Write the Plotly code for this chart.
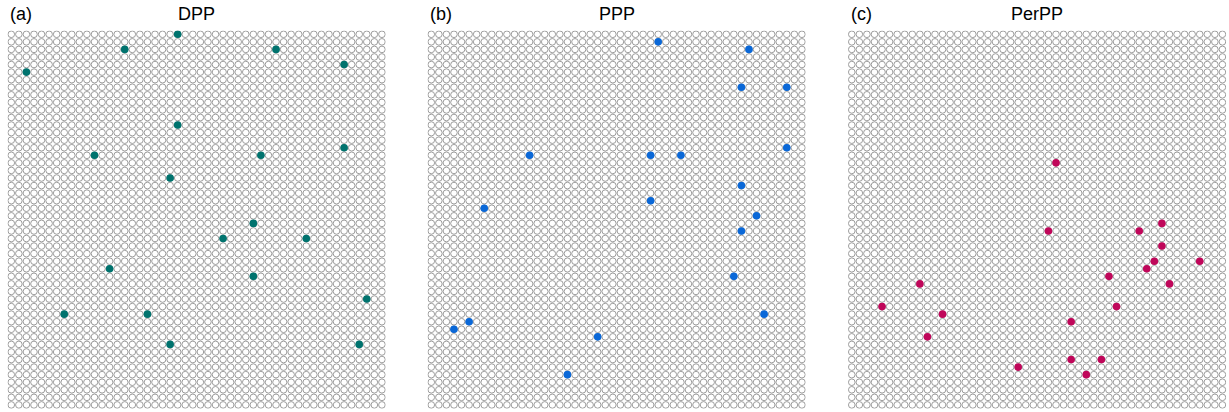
import numpy as np
import plotly.graph_objects as go

N = 50  # lattice size (50 x 50)

panel_titles = ["DPP", "PPP", "PerPP"]
panel_tags = ["(a)", "(b)", "(c)"]
colors = ["#00736E", "#0A68D8", "#C0075A"]

# (column, row) of selected lattice points, row 0 at top
dpp_cols = [22, 15, 35, 44, 2, 22, 44, 11, 33, 21, 32, 28, 39, 13, 32, 47, 7, 18, 21, 46]
dpp_rows = [0, 2, 2, 4, 5, 12, 15, 16, 16, 19, 25, 27, 27, 31, 32, 35, 37, 37, 41, 41]

ppp_cols = [30, 42, 41, 47, 47, 13, 29, 33, 41, 29, 7, 43, 41, 40, 44, 5, 3, 22, 18]
ppp_rows = [1, 2, 7, 7, 15, 16, 16, 16, 20, 22, 23, 24, 26, 32, 37, 38, 39, 40, 45]

perpp_cols = [27, 26, 38, 41, 41, 40, 46, 39, 34, 42, 9, 4, 12, 35, 29, 10, 29, 33, 22, 31]
perpp_rows = [17, 26, 26, 25, 28, 30, 30, 31, 32, 33, 33, 36, 37, 36, 38, 40, 43, 43, 44, 45]

panels = [(dpp_cols, dpp_rows), (ppp_cols, ppp_rows), (perpp_cols, perpp_rows)]

W, H = 1229, 412
x_left = [7.5, 427.5, 848.0]
pw = 378.2
y_top, y_bot = 30.5, 408.7

gx, gy = np.meshgrid(np.arange(N), np.arange(N))
gx = gx.ravel()
gy = gy.ravel()

fig = go.Figure()
annotations = []
for k, (cols, rows) in enumerate(panels):
    xa = "x" if k == 0 else f"x{k+1}"
    ya = "y" if k == 0 else f"y{k+1}"
    fig.add_trace(go.Scatter(
        x=gx, y=gy, mode="markers", xaxis=xa, yaxis=ya,
        marker=dict(symbol="circle-open", size=6.6, color="#9C9C9C",
                    line=dict(width=1, color="#9C9C9C")),
        hoverinfo="skip", showlegend=False))
    fig.add_trace(go.Scatter(
        x=cols, y=rows, mode="markers", xaxis=xa, yaxis=ya,
        marker=dict(symbol="circle", size=7.6, color=colors[k],
                    line=dict(width=0)),
        showlegend=False))
    x0 = x_left[k] / W
    x1 = (x_left[k] + pw) / W
    axkey = "xaxis" if k == 0 else f"xaxis{k+1}"
    aykey = "yaxis" if k == 0 else f"yaxis{k+1}"
    fig.update_layout(**{
        axkey: dict(domain=[x0, x1], range=[-0.5, N - 0.5], visible=False,
                    showgrid=False, zeroline=False, anchor=ya),
        aykey: dict(domain=[(H - y_bot) / H, (H - y_top) / H],
                    range=[N - 0.5, -0.5], visible=False,
                    showgrid=False, zeroline=False, anchor=xa),
    })
    annotations.append(dict(
        text=panel_titles[k], xref="paper", yref="paper",
        x=(x_left[k] + pw / 2) / W, y=(H - 14) / H,
        xanchor="center", yanchor="middle", showarrow=False,
        font=dict(size=18, color="#000000", family="Liberation Sans, Arial, sans-serif")))
    annotations.append(dict(
        text=panel_tags[k], xref="paper", yref="paper",
        x=(x_left[k] + 0.5) / W, y=(H - 14) / H,
        xanchor="left", yanchor="middle", showarrow=False,
        font=dict(size=18, color="#000000", family="Liberation Sans, Arial, sans-serif")))

fig.update_layout(
    width=W, height=H,
    margin=dict(l=0, r=0, t=0, b=0),
    paper_bgcolor="white", plot_bgcolor="white",
    annotations=annotations,
    showlegend=False,
)

fig.write_html("out.html", config={"displayModeBar": False})
